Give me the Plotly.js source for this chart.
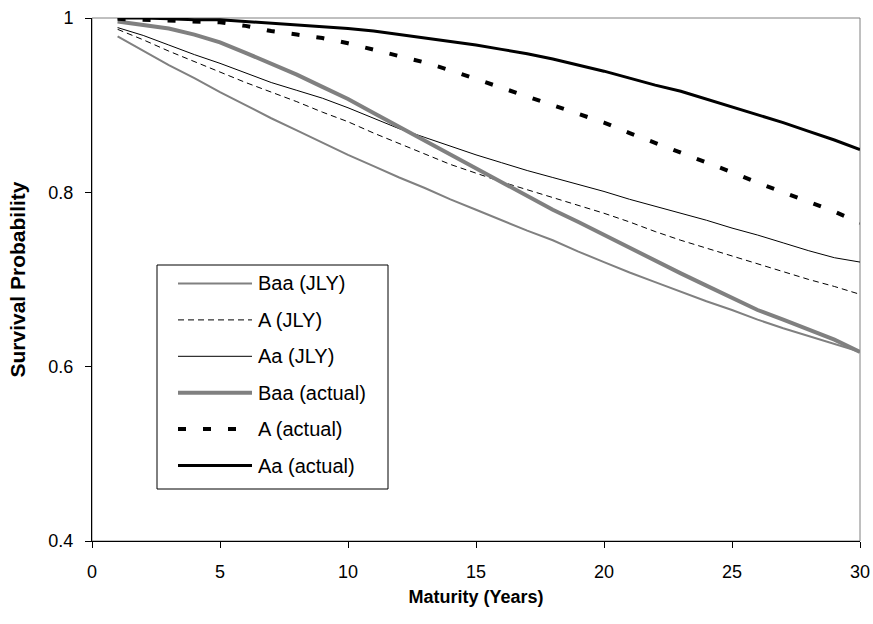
<!DOCTYPE html>
<html>
<head>
<meta charset="utf-8">
<script src="https://cdn.plot.ly/plotly-3.0.1.min.js"></script>
<style>html,body{margin:0;padding:0;background:#fff;}#chart{width:873px;height:624px;}</style>
</head>
<body>
<div id="chart"></div>
<script>
const years = [1,2,3,4,5,6,7,8,9,10,11,12,13,14,15,16,17,18,19,20,21,22,23,24,25,26,27,28,29,30];
const seriesNames = ["Baa (JLY)", "A (JLY)", "Aa (JLY)", "Baa (actual)", "A (actual)", "Aa (actual)"];
const baaJLY = [0.979,0.962,0.946,0.931,0.915,0.900,0.885,0.871,0.857,0.843,0.830,0.817,0.805,0.792,0.780,0.768,0.756,0.745,0.732,0.720,0.708,0.697,0.686,0.675,0.665,0.654,0.644,0.635,0.626,0.617];
const aJLY = [0.987,0.975,0.962,0.950,0.938,0.926,0.915,0.904,0.892,0.881,0.868,0.856,0.844,0.832,0.822,0.812,0.803,0.794,0.785,0.776,0.766,0.755,0.745,0.736,0.727,0.718,0.709,0.700,0.692,0.683];
const aaJLY = [0.989,0.980,0.969,0.958,0.948,0.937,0.926,0.917,0.908,0.897,0.885,0.873,0.863,0.853,0.843,0.834,0.825,0.817,0.809,0.801,0.792,0.784,0.776,0.768,0.759,0.751,0.742,0.733,0.725,0.720];
const baaActual = [0.996,0.992,0.988,0.981,0.972,0.960,0.948,0.935,0.921,0.907,0.891,0.875,0.860,0.844,0.828,0.811,0.795,0.780,0.766,0.751,0.737,0.722,0.707,0.693,0.679,0.665,0.654,0.643,0.631,0.617];
const aActual = [0.999,0.998,0.997,0.996,0.995,0.991,0.985,0.981,0.977,0.971,0.964,0.956,0.949,0.940,0.930,0.921,0.911,0.901,0.891,0.880,0.868,0.857,0.846,0.835,0.823,0.811,0.800,0.789,0.778,0.765];
const aaActual = [1.000,1.000,0.999,0.998,0.998,0.996,0.994,0.992,0.990,0.988,0.985,0.981,0.977,0.973,0.969,0.964,0.959,0.953,0.946,0.939,0.931,0.923,0.916,0.907,0.898,0.889,0.880,0.870,0.860,0.849];
const xTicks = [0,5,10,15,20,25,30];
const yTicks = [0.4,0.6,0.8,1];
const yTickText = ["0.4","0.6","0.8","1"];

const values = [baaJLY, aJLY, aaJLY, baaActual, aActual, aaActual];
const styles = [
  {color:'#808080', width:2, dash:'solid'},
  {color:'#000000', width:1, dash:'6px,4px'},
  {color:'#000000', width:1, dash:'solid'},
  {color:'#808080', width:4, dash:'solid'},
  {color:'#000000', width:4, dash:'8px,17px'},
  {color:'#000000', width:3, dash:'solid'}
];
const traces = values.map((v,i)=>({
  x: years, y: v, type:'scatter', mode:'lines', name: seriesNames[i],
  showlegend:false,
  line: {color: styles[i].color, width: styles[i].width, dash: styles[i].dash}
}));

// plot-area geometry (pixels) for placing the legend box in paper coords
const W = 873, H = 624, M = {l:92, r:13, t:18, b:83};
const pw = W - M.l - M.r, ph = H - M.t - M.b;
const px2x = p => (p - M.l) / pw;
const py2y = p => (H - M.b - p) / ph;

const font = 'Liberation Sans, Arial, sans-serif';
const shapes = [
  {type:'rect', xref:'paper', yref:'paper', x0:0, x1:1, y0:0, y1:1,
   line:{color:'#808080', width:1}, layer:'below'},
  {type:'rect', xref:'paper', yref:'paper', x0:px2x(157), x1:px2x(388), y0:py2y(489), y1:py2y(265),
   line:{color:'#000', width:1}, fillcolor:'#fff', layer:'above'}
];
const annotations = [];
const legTop = 283.5, legStep = 36.4;
seriesNames.forEach((n,i)=>{
  const yy = py2y(legTop + i*legStep);
  shapes.push({type:'line', xref:'paper', yref:'paper', x0:px2x(178), x1:px2x(252), y0:yy, y1:yy,
    line:{color:styles[i].color, width:styles[i].width, dash:styles[i].dash}, layer:'above'});
  annotations.push({xref:'paper', yref:'paper', x:px2x(256), y:yy, xanchor:'left', yanchor:'middle',
    text:n, showarrow:false, font:{family:font, size:20, color:'#000'}});
});

const layout = {
  width: W, height: H,
  margin: M,
  paper_bgcolor:'#fff', plot_bgcolor:'#fff',
  font: {family: font, size: 18, color:'#000'},
  showlegend: false,
  xaxis: {
    range:[0,30], tickvals: xTicks, ticktext: xTicks.map(String),
    showgrid:false, zeroline:false, showline:true, linecolor:'#000', linewidth:1,
    ticks:'outside', ticklen:6, tickcolor:'#000', ticklabelstandoff:8,
    tickfont:{family:font, size:18},
    title:{text:'<b>Maturity (Years)</b>', font:{family:font, size:18}, standoff:9}
  },
  yaxis: {
    range:[0.4,1], tickvals: yTicks, ticktext: yTickText,
    showgrid:false, zeroline:false, showline:true, linecolor:'#000', linewidth:1,
    ticks:'outside', ticklen:6, tickcolor:'#000', ticklabelstandoff:8,
    tickfont:{family:font, size:18},
    title:{text:'<b>Survival Probability</b>', font:{family:font, size:21}, standoff:17}
  },
  shapes: shapes,
  annotations: annotations
};
Plotly.newPlot('chart', traces, layout, {staticPlot:true, displayModeBar:false});
</script>
</body>
</html>
